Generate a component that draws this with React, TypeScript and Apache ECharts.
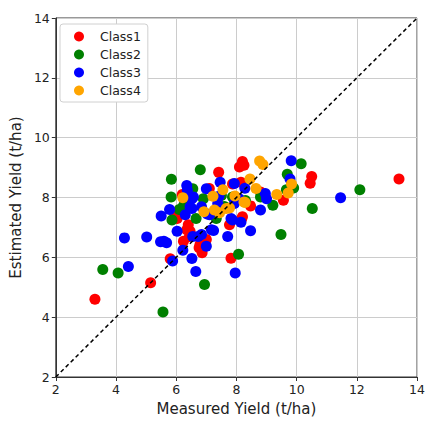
import React, { useEffect, useRef } from "react";
import * as echarts from "echarts";

const class1: number[][] = [
  [3.3, 4.6], [5.15, 5.15], [5.8, 5.95], [5.97, 7.42], [6.03, 7.3], [6.24, 6.54], [6.4, 7.09],
  [6.44, 6.7], [6.46, 6.87], [6.43, 7.91], [6.76, 6.32], [6.79, 6.43], [6.86, 6.15], [6.84, 6.65],
  [7.41, 8.84], [8.2, 9.2], [8.1, 9.02], [8.25, 9.08], [8.15, 8.51], [7.87, 8.45], [7.77, 7.09],
  [8.17, 7.28], [8.47, 7.72], [7.82, 5.97], [9.56, 7.91], [10.5, 8.7], [10.45, 8.48], [13.4, 8.62],
  [6.2, 8.1], [7.1, 8.3], [8.8, 8.18], [7.0, 6.6], [6.13, 7.47], [6.35, 6.92], [8.2, 7.36],
];
const class2: number[][] = [
  [3.56, 5.59], [4.07, 5.48], [5.56, 4.17], [6.94, 5.09], [8.07, 6.1], [5.86, 7.25], [5.84, 8.61],
  [6.8, 8.93], [5.83, 8.02], [6.55, 8.29], [6.24, 7.72], [6.66, 7.3], [7.33, 7.3], [6.9, 7.96],
  [7.5, 8.07], [7.87, 8.02], [9.21, 7.74], [8.8, 8.02], [9.48, 6.76], [10.52, 7.63], [12.1, 8.26],
  [10.15, 9.13], [9.69, 8.78], [9.9, 8.32], [9.66, 8.26], [7.6, 7.7], [8.3, 7.9], [6.1, 7.6],
];
const class3: number[][] = [
  [4.28, 6.65], [4.41, 5.69], [5.02, 6.68], [5.48, 6.52], [5.68, 6.49], [5.59, 6.54], [5.5, 7.38],
  [5.78, 7.6], [5.88, 5.88], [6.03, 6.87], [6.22, 6.24], [6.52, 5.96], [6.65, 5.53], [7.0, 6.37],
  [6.55, 6.7], [6.73, 6.7], [6.84, 6.76], [7.17, 6.92], [6.3, 7.42], [6.52, 7.63], [6.46, 7.69],
  [6.35, 8.4], [6.37, 8.24], [7.0, 8.29], [6.57, 8.02], [6.52, 7.96], [7.42, 8.04], [7.93, 8.47],
  [7.46, 8.51], [8.28, 8.31], [8.96, 8.13], [9.0, 7.96], [8.09, 7.96], [6.84, 7.69], [7.03, 7.45],
  [7.11, 7.42], [7.38, 7.8], [7.93, 7.8], [7.82, 7.3], [7.87, 7.25], [8.15, 7.17], [8.8, 7.58],
  [8.47, 6.89], [7.71, 6.7], [7.96, 5.48], [9.82, 9.23], [9.78, 8.62], [11.46, 7.99], [7.24, 6.9],
];
const class4: number[][] = [
  [8.77, 9.22], [8.88, 9.1], [9.83, 8.45], [9.72, 8.15], [9.34, 8.1], [6.22, 7.99], [7.22, 8.04],
  [7.55, 8.26], [8.45, 8.62], [8.65, 8.3], [8.29, 7.83], [8.25, 7.85], [7.77, 7.65], [7.66, 7.63],
  [6.92, 7.52], [7.27, 7.58], [7.44, 7.49], [7.95, 8.05],
];
const diagonal: number[][] = [[2, 2], [14, 14]];
const classNames = ["Class1", "Class2", "Class3", "Class4"];
const classColors = ["#ff0000", "#008000", "#0000ff", "#ffa500"];

const FONT = "DejaVu Sans";

export default function App() {
  const ref = useRef<HTMLDivElement>(null);
  useEffect(() => {
    if (!ref.current) return;
    const chart = echarts.init(ref.current, undefined, { renderer: "svg" });
    const datasets = [class1, class2, class3, class4];
    const axisCommon = {
      min: 2,
      max: 14,
      interval: 2,
      nameLocation: "middle" as const,
      nameTextStyle: { fontFamily: FONT, fontSize: 15, color: "#222" },
      axisLine: { show: true, onZero: false, lineStyle: { color: "#333", width: 1 } },
      axisTick: { show: true, inside: false, length: 4, lineStyle: { color: "#333" } },
      axisLabel: { fontFamily: FONT, fontSize: 12.5, color: "#222", margin: 6 },
      splitLine: { show: true, lineStyle: { color: "#cccccc", width: 1 } },
    };
    chart.setOption({
      animation: false,
      grid: {
        left: 53, top: 18, width: 368, height: 365,
        show: true, borderColor: "#333", borderWidth: 1, backgroundColor: "transparent",
      },
      legend: {
        data: classNames,
        orient: "vertical",
        left: 60,
        top: 24,
        padding: [6, 7, 5, 14],
        itemGap: 5,
        itemWidth: 16,
        itemHeight: 10,
        icon: "circle",
        backgroundColor: "#ffffff",
        borderColor: "#d0d0d0",
        borderWidth: 1,
        borderRadius: 3,
        textStyle: { fontFamily: FONT, fontSize: 12.5, color: "#222", padding: [0, 0, 0, 8] },
      },
      xAxis: { ...axisCommon, type: "value", name: "Measured Yield (t/ha)", nameGap: 24 },
      yAxis: { ...axisCommon, type: "value", name: "Estimated Yield (t/ha)", nameGap: 30 },
      series: [
        ...datasets.map((d, i) => ({
          type: "scatter",
          name: classNames[i],
          data: d,
          symbolSize: 11,
          itemStyle: { color: classColors[i], opacity: 1 },
          z: 2 + i,
        })),
        {
          type: "line",
          name: "diag",
          data: diagonal,
          symbol: "none",
          lineStyle: { color: "#000", width: 1.5, type: [4, 3] },
          z: 10,
        },
      ],
    });
    return () => chart.dispose();
  }, []);
  return (
    <div
      ref={ref}
      style={{ position: "absolute", left: 0, top: 0, width: 428, height: 421, background: "#fff" }}
    />
  );
}
